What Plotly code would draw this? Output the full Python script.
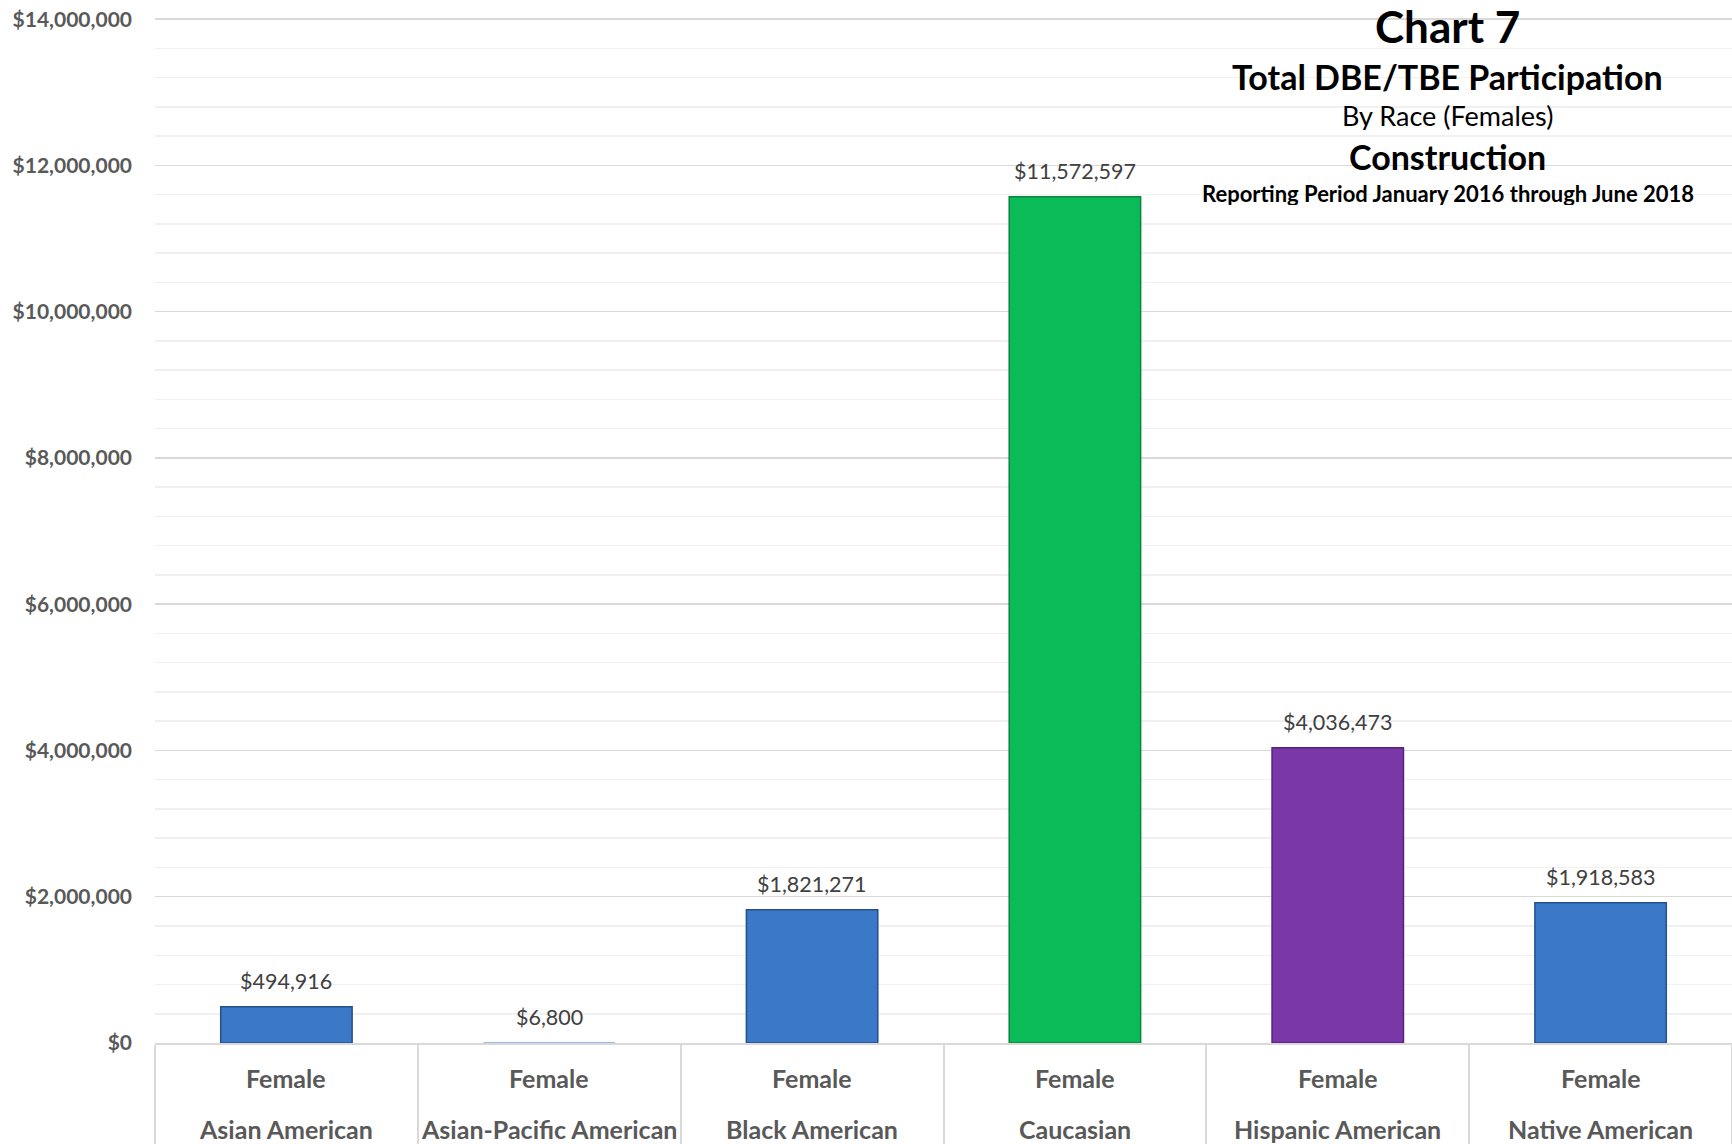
import plotly.graph_objects as go

categories = ["Asian American", "Asian-Pacific American", "Black American",
              "Caucasian", "Hispanic American", "Native American"]
gender = ["Female"] * 6
values = [494916, 6800, 1821271, 11572597, 4036473, 1918583]
bar_colors = ["#3b78c8", "#3b78c8", "#3b78c8", "#0abb58", "#7a37a8", "#3b78c8"]
line_colors = ["#24508c", "#24508c", "#24508c", "#07843e", "#55237a", "#24508c"]
y_ticks = [0, 2000000, 4000000, 6000000, 8000000, 10000000, 12000000, 14000000]

title_lines = [
    ("Chart 7", 44, "bold", 0.9915),
    ("Total DBE/TBE Participation", 34, "bold", 0.9418),
    ("By Race (Females)", 27, "normal", 0.9038),
    ("Construction", 34, "bold", 0.8638),
    ("Reporting Period January 2016 through June 2018", 22, "bold", 0.8287),
]

FONT = "Lato"

fig = go.Figure()
fig.add_trace(go.Bar(
    x=categories, y=values, width=0.5,
    marker=dict(color=bar_colors,
                line=dict(color=line_colors, width=[1.5 if v > 50000 else 0 for v in values])),
    hoverinfo="skip",
))

annotations = []
for c, v in zip(categories, values):
    annotations.append(dict(
        x=c, y=v, xref="x", yref="y", text=f"${v:,.0f}", showarrow=False,
        yanchor="bottom", yshift=11,
        font=dict(family=FONT, size=21.5, color="#404040"),
    ))
for c, g in zip(categories, gender):
    annotations.append(dict(
        x=c, y=-0.0341, xref="x", yref="paper", text=g, showarrow=False,
        yanchor="middle", font=dict(family=FONT, size=25, color="#595959", weight="bold"),
    ))
    annotations.append(dict(
        x=c, y=-0.0838, xref="x", yref="paper", text=c, showarrow=False,
        yanchor="middle", font=dict(family=FONT, size=25, color="#595959", weight="bold"),
    ))
for text, size, weight, ypos in title_lines:
    annotations.append(dict(
        x=0.8199, y=ypos, xref="paper", yref="paper", text=text, showarrow=False,
        xanchor="center", yanchor="middle", height=int(size * 1.1),
        font=dict(family=FONT, size=size, color="#000000", weight=weight),
    ))

fig.update_layout(
    width=1732, height=1144,
    margin=dict(l=155, r=0, t=17.3, b=101, pad=0),
    paper_bgcolor="white", plot_bgcolor="white",
    showlegend=False,
    annotations=annotations,
    bargap=0.5,
)
fig.update_xaxes(
    type="category", range=[-0.5, 5.5],
    showticklabels=False, showgrid=False, zeroline=False,
    showline=True, linecolor="#d9d9d9", linewidth=2,
    ticks="outside", tickson="boundaries", ticklen=101, tickwidth=2, tickcolor="#d9d9d9",
)
fig.update_yaxes(
    range=[0, 14030000], tickvals=y_ticks, tickformat="$,.0f",
    showgrid=True, gridcolor="#d9d9d9", gridwidth=1.5, zeroline=False,
    minor=dict(dtick=400000, showgrid=True, gridcolor="#f0f0f0", gridwidth=1.5),
    tickfont=dict(family=FONT, size=21, color="#595959", weight="bold"),
    ticks="", ticklabelstandoff=22, showline=False,
)

fig.write_html(
    "out.html",
    config={"displayModeBar": False, "staticPlot": True},
    post_script="document.body.style.margin='0px';document.body.style.overflow='hidden';",
)
